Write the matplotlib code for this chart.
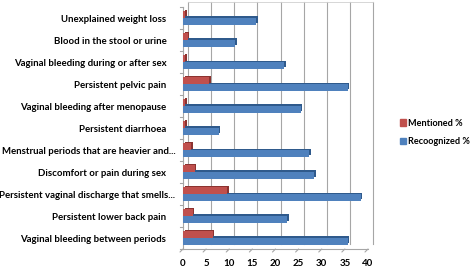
import matplotlib
matplotlib.use("Agg")
import matplotlib.pyplot as plt
import matplotlib.transforms as mtransforms
from matplotlib.patches import Patch
import numpy as np

plt.rcParams['font.family'] = ['Lato', 'DejaVu Sans']

categories = [
    "Unexplained weight loss",
    "Blood in the stool or urine",
    "Vaginal bleeding during or after sex",
    "Persistent pelvic pain",
    "Vaginal bleeding after menopause",
    "Persistent diarrhoea",
    "Menstrual periods that are heavier and...",
    "Discomfort or pain during sex",
    "Persistent vaginal discharge that smells...",
    "Persistent lower back pain",
    "Vaginal bleeding between periods",
]
mentioned = [0.5, 1.0, 0.5, 5.7, 0.5, 0.5, 1.8, 2.5, 9.6, 2.1, 6.4]
recognized = [15.8, 11.3, 21.9, 35.6, 25.5, 7.7, 27.3, 28.4, 38.4, 22.5, 35.6]
xticks = [0, 5, 10, 15, 20, 25, 30, 35, 40]

red, red_dark = "#C0504D", "#8C3330"
blue, blue_dark = "#4F81BD", "#2F5A8C"

fig = plt.figure(figsize=(4.73, 2.67), dpi=100)
ax = fig.add_axes([183/473, 18/267, 185/473, 242/267])

n = len(categories)
y = np.arange(n)[::-1]
h = 0.31

# back wall gridlines, shifted up-right like the 3D chart
depth = mtransforms.ScaledTranslation(5/100, 5/100, fig.dpi_scale_trans)
for xv in xticks:
    ax.plot([xv, xv], [-0.5, n - 0.5], color="#A6A6A6", lw=0.8,
            transform=ax.transData + depth, clip_on=False, zorder=0)
ax.plot([0, 40], [n - 0.5, n - 0.5], color="#D0D0D0", lw=0.6,
        transform=ax.transData + depth, clip_on=False, zorder=0)

shift = mtransforms.ScaledTranslation(1.5/100, 1.5/100, fig.dpi_scale_trans)
for vals, off, c, cd in [(mentioned, h/2, red, red_dark), (recognized, -h/2, blue, blue_dark)]:
    ax.barh(y + off, vals, height=h, color=cd, transform=ax.transData + shift,
            zorder=2, clip_on=False)
    ax.barh(y + off, vals, height=h, color=c, zorder=3, clip_on=False)

ax.set_xlim(0, 40)
ax.set_ylim(-0.5, n - 0.5)
ax.set_xticks(xticks)
ax.set_xticklabels([str(v) for v in xticks], fontsize=7, fontweight="bold")
ax.set_yticks(y)
ax.set_yticklabels(categories, fontsize=6.9, fontweight="bold")
ax.tick_params(axis="y", length=0, pad=12)
ax.tick_params(axis="x", length=0, pad=7)
for lab in ax.get_yticklabels():
    if lab.get_text().endswith("..."):
        lab.set_transform(lab.get_transform() +
                          mtransforms.ScaledTranslation(9/100, 0, fig.dpi_scale_trans))
for s in ["top", "right"]:
    ax.spines[s].set_visible(False)
ax.spines["left"].set_color("#A6A6A6")
ax.spines["bottom"].set_color("#A6A6A6")
# diagonal floor ticks under the x axis
for xv in xticks:
    ax.annotate("", xy=(xv, -0.5), xycoords="data", xytext=(-3, -3),
                textcoords="offset pixels",
                arrowprops=dict(arrowstyle="-", color="#A6A6A6", lw=0.8,
                                shrinkA=0, shrinkB=0))
# small ticks between categories on the left axis
for b in np.arange(n + 1) - 0.5:
    ax.plot([-0.6, 0], [b, b], color="#A6A6A6", lw=0.8, clip_on=False)

handles = [Patch(color=red, label="Mentioned %"), Patch(color=blue, label="Recoognized %")]
fig.legend(handles=handles, loc="upper left", bbox_to_anchor=(396/473, 1 - 115/267),
           frameon=False, prop={"size": 6.6, "weight": "bold"},
           handlelength=0.7, handleheight=0.7, handletextpad=0.2, labelspacing=1.05,
           borderaxespad=0)

fig.savefig("out.png", dpi=100)
